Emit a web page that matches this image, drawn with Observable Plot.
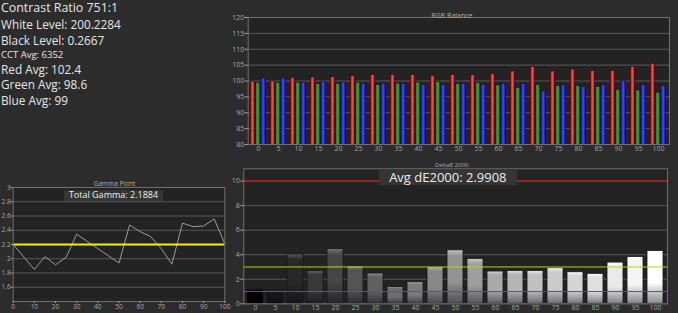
<!DOCTYPE html>
<html><head><meta charset="utf-8">
<script src="https://cdn.jsdelivr.net/npm/d3@7"></script>
<script src="https://cdn.jsdelivr.net/npm/@observablehq/plot@0.6"></script>
<style>
body{margin:0;background:#2c2c2c;}
#wrap{position:relative;width:678px;height:313px;background:#2c2c2c;overflow:hidden;font-family:"Open Sans",sans-serif;}
#wrap svg{position:absolute;overflow:visible;}
.stat{position:absolute;left:1px;color:#e6e6e6;white-space:nowrap;line-height:1;}
.box{position:absolute;background:#353535;color:#eeeeee;text-align:center;white-space:nowrap;}
</style></head><body><div id="wrap"></div>
<script>
// ---- data ----
const statLines = ["Contrast Ratio 751:1","White Level: 200.2284","Black Level: 0.2667","CCT Avg: 6352","Red Avg: 102.4","Green Avg: 98.6","Blue Avg: 99"];
const levels = [0,5,10,15,20,25,30,35,40,45,50,55,60,65,70,75,80,85,90,95,100];
const redVals   = [99.8,99.9,101.0,101.1,101.2,101.5,101.9,101.9,101.9,101.6,101.9,101.8,102.2,103.0,104.4,103.0,103.6,103.2,103.2,104.4,105.4];
const greenVals = [99.4,99.4,99.4,99.1,99.1,99.5,98.7,99.2,99.5,99.7,99.1,99.3,98.6,97.8,98.7,98.4,98.4,98.1,97.2,97.0,96.3];
const blueVals  = [100.8,100.8,99.5,99.8,99.5,99.1,99.1,99.1,98.7,98.7,99.1,98.7,99.1,99.1,96.7,98.6,98.0,98.7,99.9,98.7,98.4];
const rgbTicks = [80,85,90,95,100,105,110,115,120];

const gammaLevels = [0,10,15,20,25,30,50,55,60,65,70,75,80,85,90,95,100];
const gammaValues = [2.20,1.85,2.03,1.915,2.02,2.345,1.94,2.475,2.38,2.31,2.14,1.925,2.50,2.45,2.46,2.56,2.21];
const gammaTarget = [2.2];
const gammaXTicks = [0,10,20,30,40,50,60,70,80,90,100];
const gammaYTicks = [1.6,1.8,2,2.2,2.4,2.6,2.8,3];
const totalGamma = "Total Gamma: 2.1884";

const deltaE = [1.17,1.08,4.04,2.66,4.47,3.06,2.47,1.36,1.76,2.98,4.36,3.66,2.63,2.68,2.68,2.90,2.57,2.44,3.36,3.82,4.31];
const deltaRefs = [10,3,1];
const deltaTicks = [0,2,4,6,8,10];
const avgDE = "Avg dE2000: 2.9908";

// ---- layout ----
const wrap = document.getElementById("wrap");
const statStyle = [[12.4,2.2],[11.8,18.8],[11.8,34.5],[9.5,50.2],[11.8,63.5],[11.8,79],[11.8,94.8]];
statLines.forEach((t,i)=>{
  const d=document.createElement("div");d.className="stat";d.textContent=t;
  d.style.fontSize=statStyle[i][0]+"px";d.style.top=statStyle[i][1]+"px";wrap.appendChild(d);
});
function place(svg,left,top){svg.style.left=left+"px";svg.style.top=top+"px";wrap.appendChild(svg);return svg;}
function defs(svg,html){d3.select(svg).insert("defs",":first-child").html(html);}
const baseStyle={background:"transparent",color:"#a8a8a8",fontSize:"7px",fontFamily:"Open Sans, sans-serif",overflow:"visible"};
const plotBg="#232323", gridC="#585858", frameC="#707070";
const fmt = d => String(d);

// ---- RGB Balance ----
const rgbRows = levels.map((l,i)=>({level:l,r:redVals[i],g:greenVals[i],b:blueVals[i]}));
const rgb = Plot.plot({
  width:453,height:160,marginLeft:22.7,marginRight:9,marginTop:17,marginBottom:16,
  style:baseStyle,
  x:{type:"band",domain:levels,padding:0,label:null},
  y:{domain:[80,120],label:null},
  marks:[
    Plot.frame({fill:plotBg,stroke:null}),
    Plot.gridY(rgbTicks,{stroke:gridC,strokeOpacity:1}),
    Plot.barY(rgbRows,{x:"level",y:"r",clip:true,fill:"url(#gR)",stroke:"#141414",strokeWidth:0.6,insetLeft:2.3,insetRight:13.4}),
    Plot.barY(rgbRows,{x:"level",y:"g",clip:true,fill:"url(#gG)",stroke:"#141414",strokeWidth:0.6,insetLeft:7.6,insetRight:8.1}),
    Plot.barY(rgbRows,{x:"level",y:"b",clip:true,fill:"url(#gB)",stroke:"#141414",strokeWidth:0.6,insetLeft:13,insetRight:2.8}),
    Plot.frame({stroke:frameC}),
    Plot.axisY(rgbTicks,{tickSize:3,tickPadding:1,tickFormat:fmt}),
    Plot.axisX({tickSize:0,tickPadding:2}),
    Plot.text(["RGB Balance"],{frameAnchor:"top",dy:-4.5,dx:-7,fill:"#b0b0b0",fontSize:7})
  ]
});
defs(rgb,`
<linearGradient id="gR" x1="0" x2="1" y1="0" y2="0"><stop offset="0" stop-color="#e00000"/><stop offset="0.5" stop-color="#ff4545"/><stop offset="1" stop-color="#e00000"/></linearGradient>
<linearGradient id="gG" x1="0" x2="1" y1="0" y2="0"><stop offset="0" stop-color="#0f7a0f"/><stop offset="0.5" stop-color="#3aa43a"/><stop offset="1" stop-color="#0f7a0f"/></linearGradient>
<linearGradient id="gB" x1="0" x2="1" y1="0" y2="0"><stop offset="0" stop-color="#1010e8"/><stop offset="0.5" stop-color="#4a4aff"/><stop offset="1" stop-color="#1010e8"/></linearGradient>`);
place(rgb,225,0);

// ---- Gamma Point ----
const gammaRows = gammaLevels.map((l,i)=>({level:l,g:gammaValues[i]}));
const gam = Plot.plot({
  width:228,height:138,marginLeft:12.7,marginRight:3.7,marginTop:12,marginBottom:12,
  style:{...baseStyle,fontSize:"6.5px"},
  x:{domain:[0,100],label:null},
  y:{domain:[1.4,3],label:null},
  marks:[
    Plot.frame({fill:plotBg,stroke:null}),
    Plot.gridY(gammaYTicks,{stroke:gridC,strokeOpacity:1}),
    Plot.line(gammaRows,{x:"level",y:"g",stroke:"#9c9c9c",strokeWidth:1}),
    Plot.ruleY(gammaTarget,{stroke:"#f2f200",strokeWidth:1.8}),
    Plot.frame({stroke:frameC}),
    Plot.axisY(gammaYTicks,{tickSize:2,tickPadding:0.5,tickFormat:fmt}),
    Plot.axisX(gammaXTicks,{tickSize:2,tickPadding:0.5,tickFormat:fmt}),
    Plot.text(["Gamma Point"],{frameAnchor:"top",dy:-6.5,dx:-4.5,fill:"#b0b0b0",fontSize:6.5})
  ]
});
place(gam,0,175);

// ---- DeltaE 2000 ----
const deRows = levels.map((l,i)=>({level:l,de:deltaE[i]}));
const de = Plot.plot({
  width:453,height:153,marginLeft:18.3,marginRight:11,marginTop:8.3,marginBottom:9.7,
  style:baseStyle,
  x:{type:"band",domain:levels,paddingInner:0.22,paddingOuter:0.15,label:null},
  y:{domain:[0,11],label:null},
  color:{type:"identity"},
  marks:[
    Plot.frame({fill:plotBg,stroke:null}),
    Plot.gridY(deltaTicks,{stroke:gridC,strokeOpacity:1}),
    Plot.barY(deRows,{x:"level",y:"de",fill:d=>`url(#dg${d.level})`,stroke:"#161616",strokeWidth:0.8}),
    Plot.ruleY([deltaRefs[0]],{stroke:"#b81a1e",strokeWidth:1.6}),
    Plot.ruleY([deltaRefs[1]],{stroke:"#c8c81c",strokeWidth:1}),
    Plot.ruleY([deltaRefs[2]],{stroke:"#2e7d2e",strokeWidth:1}),
    Plot.frame({stroke:frameC}),
    Plot.axisY(deltaTicks,{tickSize:3,tickPadding:1,tickFormat:fmt}),
    Plot.axisX({tickSize:0,tickPadding:1.5}),
    Plot.text(["DeltaE 2000"],{frameAnchor:"top",dy:-5.6,dx:-4,fill:"#b0b0b0",fontSize:6})
  ]
});
defs(de, levels.map(l=>{
  const g=Math.round(255*Math.pow(l/100,0.8));
  const top=d3.rgb(Math.min(255,g+45),Math.min(255,g+45),Math.min(255,g+45)).formatHex();
  const mid=d3.rgb(g,g,g).formatHex();
  const bot=d3.rgb(g*0.55,g*0.55,g*0.55).formatHex();
  return `<linearGradient id="dg${l}" x1="0" x2="0" y1="0" y2="1"><stop offset="0" stop-color="${top}"/><stop offset="0.12" stop-color="${mid}"/><stop offset="0.6" stop-color="${mid}"/><stop offset="1" stop-color="${bot}"/></linearGradient>`;
}).join(""));
place(de,225,160);

// ---- boxes ----
function box(text,left,top,w,h,fs){
  const d=document.createElement("div");d.className="box";d.textContent=text;
  Object.assign(d.style,{left:left+"px",top:top+"px",width:w+"px",height:h+"px",fontSize:fs+"px",lineHeight:h+"px"});
  wrap.appendChild(d);
}
box(totalGamma,64,190,99,10.5,9);
box(avgDE,379,170,137.7,15,13);
</script></body></html>
